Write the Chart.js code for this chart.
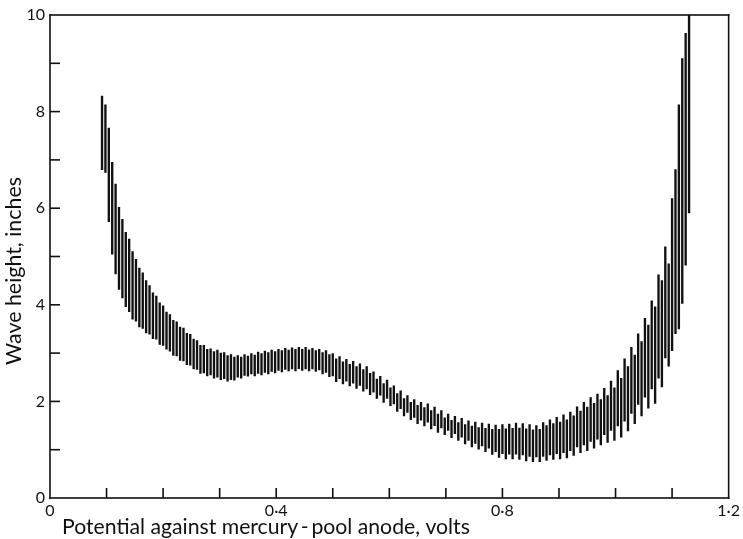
<!DOCTYPE html>
<html>
<head>
<meta charset="utf-8">
<script src="https://cdn.jsdelivr.net/npm/chart.js@4.4.1/dist/chart.umd.min.js"></script>
<style>
html,body{margin:0;padding:0;background:#fff;}
canvas{display:block;}
</style>
</head>
<body>
<canvas id="c" width="743" height="539"></canvas>
<script>
// Potential (volts) of each drop oscillation
const potentials = [
0.092,0.098,0.104,0.110,0.116,0.122,0.128,0.134,0.140,0.146,
0.152,0.158,0.164,0.170,0.176,0.182,0.188,0.194,0.200,0.206,
0.212,0.218,0.224,0.230,0.236,0.242,0.248,0.254,0.260,0.266,
0.272,0.278,0.284,0.290,0.296,0.302,0.308,0.314,0.320,0.326,
0.332,0.338,0.344,0.350,0.356,0.362,0.368,0.374,0.380,0.386,
0.392,0.398,0.404,0.410,0.416,0.422,0.428,0.434,0.440,0.446,
0.452,0.458,0.464,0.470,0.476,0.482,0.488,0.494,0.500,0.506,
0.512,0.518,0.524,0.530,0.536,0.542,0.548,0.554,0.560,0.566,
0.572,0.578,0.584,0.590,0.596,0.602,0.608,0.614,0.620,0.626,
0.632,0.638,0.644,0.650,0.656,0.662,0.668,0.674,0.680,0.686,
0.692,0.698,0.704,0.710,0.716,0.722,0.728,0.734,0.740,0.746,
0.752,0.758,0.764,0.770,0.776,0.782,0.788,0.794,0.800,0.806,
0.812,0.818,0.824,0.830,0.836,0.842,0.848,0.854,0.860,0.866,
0.872,0.878,0.884,0.890,0.896,0.902,0.908,0.914,0.920,0.926,
0.932,0.938,0.944,0.950,0.956,0.962,0.968,0.974,0.980,0.986,
0.992,0.998,1.004,1.010,1.016,1.022,1.028,1.034,1.040,1.046,
1.052,1.058,1.064,1.070,1.076,1.082,1.088,1.094,1.100,1.106,
1.112,1.118,1.124,1.130
];
// Top of each oscillation (inches)
const waveHigh = [
8.32,8.14,7.66,6.95,6.50,6.02,5.77,5.50,5.36,5.10,
4.94,4.76,4.66,4.50,4.40,4.25,4.18,4.04,3.98,3.85,
3.80,3.68,3.65,3.54,3.52,3.41,3.39,3.29,3.26,3.16,
3.16,3.08,3.09,3.03,3.06,3.00,3.01,2.95,2.97,2.92,
2.95,2.92,2.97,2.94,2.99,2.96,3.02,2.99,3.04,3.01,
3.06,3.03,3.08,3.05,3.10,3.06,3.11,3.08,3.12,3.08,
3.12,3.07,3.10,3.05,3.08,3.01,3.05,2.97,2.99,2.88,
2.93,2.82,2.87,2.77,2.83,2.72,2.78,2.66,2.72,2.58,
2.61,2.46,2.52,2.37,2.44,2.28,2.32,2.16,2.22,2.06,
2.12,1.98,2.04,1.92,1.98,1.87,1.95,1.81,1.88,1.74,
1.81,1.66,1.74,1.61,1.69,1.56,1.65,1.52,1.60,1.49,
1.57,1.46,1.55,1.44,1.53,1.42,1.51,1.42,1.52,1.43,
1.53,1.44,1.55,1.45,1.54,1.43,1.52,1.41,1.50,1.42,
1.56,1.50,1.62,1.54,1.67,1.57,1.72,1.62,1.78,1.70,
1.89,1.80,1.98,1.88,2.08,1.96,2.15,2.04,2.27,2.12,
2.42,2.28,2.64,2.48,2.88,2.72,3.12,2.96,3.40,3.24,
3.72,3.58,4.08,3.96,4.62,4.50,5.20,4.85,6.20,6.80,
8.14,9.10,9.62,10.0
];
// Bottom of each oscillation (inches)
const waveLow = [
6.80,6.74,5.72,5.05,4.64,4.32,4.14,3.96,3.86,3.70,
3.66,3.54,3.51,3.42,3.39,3.30,3.29,3.18,3.16,3.08,
3.04,2.95,2.94,2.85,2.84,2.76,2.75,2.67,2.66,2.58,
2.59,2.53,2.55,2.48,2.50,2.45,2.47,2.42,2.45,2.44,
2.50,2.48,2.54,2.52,2.57,2.53,2.58,2.55,2.60,2.57,
2.62,2.59,2.64,2.61,2.66,2.63,2.67,2.63,2.68,2.64,
2.67,2.63,2.67,2.62,2.65,2.57,2.60,2.51,2.53,2.41,
2.47,2.36,2.42,2.32,2.38,2.27,2.33,2.21,2.26,2.14,
2.19,2.06,2.13,1.98,2.06,1.91,1.95,1.79,1.85,1.70,
1.77,1.62,1.67,1.54,1.61,1.49,1.57,1.43,1.50,1.36,
1.45,1.31,1.40,1.25,1.33,1.19,1.26,1.12,1.19,1.06,
1.13,1.01,1.08,0.96,1.03,0.90,0.96,0.84,0.92,0.81,
0.91,0.81,0.91,0.80,0.89,0.77,0.86,0.75,0.85,0.75,
0.86,0.78,0.89,0.80,0.92,0.81,0.94,0.83,0.98,0.88,
1.06,0.94,1.10,0.98,1.17,1.03,1.22,1.10,1.31,1.15,
1.40,1.19,1.49,1.26,1.59,1.39,1.75,1.54,1.94,1.70,
2.09,1.86,2.26,1.96,2.48,2.30,2.90,2.73,3.05,3.40,
3.50,4.03,4.82,5.90
];
const xTickValues = [0, 0.4, 0.8, 1.2];
const xTickLabels = ["0", "0\u00b74", "0\u00b78", "1\u00b72"];
const yTickValues = [0, 2, 4, 6, 8, 10];
const yTickLabels = ["0", "2", "4", "6", "8", "10"];
const xMinorTicks = [0.1,0.2,0.3,0.4,0.5,0.6,0.7,0.8,0.9,1.0,1.1];
const yMinorTicks = [1,2,3,4,5,6,7,8,9];
const xTitle = "Potential against mercury\u2009-\u2009pool anode, volts";
const yTitle = "Wave height, inches";

const INK = '#111';
const FONT = 'Lato, "Open Sans", "DejaVu Sans", sans-serif';

const framePlugin = {
  id: 'frame',
  afterDraw(chart) {
    const ctx = chart.ctx;
    const a = chart.chartArea;
    const xs = chart.scales.x;
    const ys = chart.scales.y;
    ctx.save();
    ctx.fillStyle = INK;
    // frame
    ctx.fillRect(a.left - 0.8, a.top - 0.8, a.right - a.left + 1.6, 1.6);
    ctx.fillRect(a.left - 0.8, a.bottom - 0.8, a.right - a.left + 1.6, 1.6);
    ctx.fillRect(a.left - 0.8, a.top - 0.8, 1.6, a.bottom - a.top + 1.6);
    ctx.fillRect(a.right - 0.8, a.top - 0.8, 1.6, a.bottom - a.top + 1.6);
    // inward ticks
    for (const v of xMinorTicks) {
      const px = xs.getPixelForValue(v);
      ctx.fillRect(px - 0.8, a.bottom - 10, 1.6, 10);
    }
    for (const v of yMinorTicks) {
      const py = ys.getPixelForValue(v);
      ctx.fillRect(a.left, py - 0.8, 10, 1.6);
    }
    // axis titles
    ctx.textBaseline = 'middle';
    ctx.font = '16px ' + FONT;
    let w = ctx.measureText(xTitle).width;
    let fs = 16 * 408 / w;
    ctx.font = fs.toFixed(2) + 'px ' + FONT;
    ctx.textAlign = 'left';
    ctx.fillText(xTitle, 62, 527);
    ctx.font = '16px ' + FONT;
    w = ctx.measureText(yTitle).width;
    fs = 16 * 188 / w;
    ctx.font = fs.toFixed(2) + 'px ' + FONT;
    ctx.translate(14, 271);
    ctx.rotate(-Math.PI / 2);
    ctx.textAlign = 'center';
    ctx.fillText(yTitle, 0, 0);
    ctx.restore();
  }
};

new Chart(document.getElementById('c'), {
  type: 'bar',
  data: {
    datasets: [{
      data: potentials.map((p, i) => ({x: p, y: [waveLow[i], waveHigh[i]]})),
      backgroundColor: INK,
      borderWidth: 0,
      barThickness: 1.7,
      grouped: false
    }]
  },
  options: {
    responsive: false,
    animation: false,
    layout: {padding: {left: 0, right: 11, top: 15, bottom: 0}},
    plugins: {legend: {display: false}, tooltip: {enabled: false}},
    scales: {
      x: {
        type: 'linear', min: 0, max: 1.2, offset: false,
        afterBuildTicks: s => { s.ticks = xTickValues.map(v => ({value: v})); },
        afterFit: s => { s.height = 41; },
        ticks: {
          autoSkip: false, maxRotation: 0, padding: 3, color: INK,
          font: {family: FONT, size: 16},
          callback: (v, i) => xTickLabels[i]
        },
        grid: {display: false, drawTicks: false},
        border: {display: false}
      },
      y: {
        type: 'linear', min: 0, max: 10,
        afterBuildTicks: s => { s.ticks = yTickValues.map(v => ({value: v})); },
        afterFit: s => { s.width = 50; },
        ticks: {
          autoSkip: false, padding: 5, color: INK,
          font: {family: FONT, size: 16},
          callback: (v, i) => yTickLabels[i]
        },
        grid: {display: false, drawTicks: false},
        border: {display: false}
      }
    }
  },
  plugins: [framePlugin]
});
</script>
</body>
</html>
